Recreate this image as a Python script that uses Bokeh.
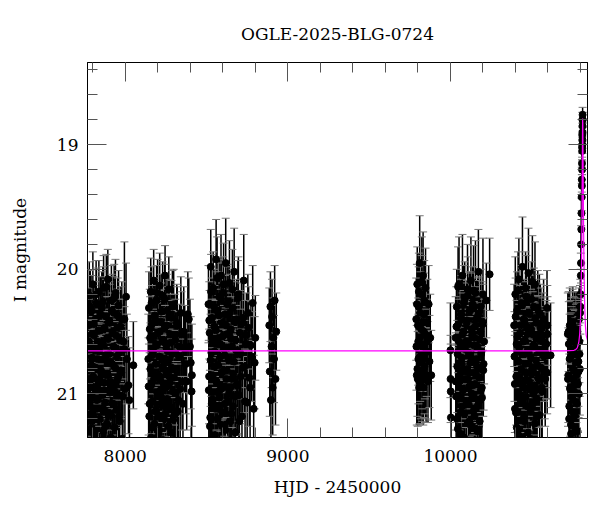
from bokeh.plotting import figure
from bokeh.models import (ColumnDataSource, Range1d, LinearAxis, SingleIntervalTicker,
                          Whisker, TeeHead)
from bokeh.embed import file_html
from bokeh.resources import INLINE

TITLE = "OGLE-2025-BLG-0724"
XLABEL = "HJD - 2450000"
YLABEL = "I magnitude"

# Season 2017
t1 = [7772, 7776, 7779, 7783, 7786, 7790, 7794, 7797, 7801, 7805, 7808, 7812, 7816, 7819, 7823,
      7827, 7830, 7834, 7838, 7841, 7845, 7849, 7852, 7856, 7860, 7863, 7867, 7871, 7874, 7878,
      7882, 7885, 7889, 7893, 7896, 7900, 7904, 7907, 7911, 7915, 7918, 7922, 7926, 7929, 7933,
      7937, 7940, 7944, 7948, 7951, 7955, 7959, 7963, 7968, 7973, 7979, 7986, 7995, 8005, 8020,
      7995, 8050,
      7774, 7777, 7781, 7785, 7788, 7792, 7796, 7799, 7803, 7807, 7810, 7814, 7818, 7821, 7825,
      7829, 7832, 7836, 7840, 7843, 7847, 7851, 7854, 7858, 7862, 7865, 7869, 7873, 7876, 7880,
      7884, 7887, 7891, 7895, 7898, 7902, 7906, 7909, 7913, 7917, 7921, 7924, 7928, 7932, 7935,
      7939, 7943, 7946, 7950, 7954, 7958, 7962, 7966, 7971, 7976, 7982, 7989, 7998, 8010, 8026]
m1 = [20.45, 20.88, 20.21, 21.05, 20.62, 20.34, 21.22, 20.71, 20.12, 20.95, 20.53, 21.31, 20.40, 20.79, 20.27,
      21.12, 20.58, 20.92, 20.18, 20.66, 21.40, 20.49, 20.83, 20.31, 21.01, 20.60, 20.15, 20.97, 20.72, 21.26,
      20.38, 20.85, 20.55, 20.08, 21.15, 20.68, 20.43, 20.90, 21.35, 20.25, 20.76, 20.51, 21.08, 20.35, 20.63,
      20.98, 20.19, 21.45, 20.70, 20.47, 20.87, 20.29, 21.18, 20.57, 20.81, 20.40, 21.02, 20.64, 20.22, 20.93,
      20.40, 20.77,
      21.10, 20.58, 20.95, 20.30, 21.28, 20.77, 20.52, 21.15, 20.86, 20.44, 21.33, 20.63, 20.97, 20.20, 21.05,
      20.72, 21.40, 20.49, 20.88, 21.20, 20.36, 20.81, 21.12, 20.59, 20.26, 21.30, 20.91, 20.47, 21.07, 20.69,
      20.14, 21.24, 20.84, 20.56, 21.38, 20.41, 20.99, 20.74, 21.17, 20.33, 20.94, 21.08, 20.62, 20.23, 21.27,
      20.79, 20.53, 21.13, 20.89, 20.37, 21.01, 20.67, 21.22, 20.46, 20.83, 21.36, 20.58, 20.96, 20.72, 21.05]
e1 = [0.30, 0.38, 0.27, 0.42, 0.33, 0.29, 0.45, 0.35, 0.26, 0.40, 0.32, 0.47, 0.30, 0.36, 0.28,
      0.43, 0.33, 0.39, 0.25, 0.34, 0.48, 0.31, 0.37, 0.29, 0.41, 0.34, 0.26, 0.40, 0.35, 0.46,
      0.30, 0.38, 0.33, 0.24, 0.44, 0.34, 0.31, 0.39, 0.47, 0.28, 0.36, 0.32, 0.42, 0.29, 0.34,
      0.40, 0.27, 0.49, 0.35, 0.31, 0.38, 0.28, 0.44, 0.33, 0.37, 0.30, 0.41, 0.34, 0.27, 0.39,
      0.62, 0.35,
      0.42, 0.34, 0.39, 0.29, 0.46, 0.36, 0.33, 0.43, 0.38, 0.31, 0.47, 0.35, 0.40, 0.27, 0.41,
      0.36, 0.49, 0.32, 0.38, 0.44, 0.30, 0.37, 0.43, 0.34, 0.28, 0.46, 0.39, 0.32, 0.42, 0.35,
      0.26, 0.45, 0.38, 0.34, 0.48, 0.31, 0.40, 0.36, 0.44, 0.29, 0.39, 0.42, 0.35, 0.27, 0.46,
      0.37, 0.33, 0.43, 0.38, 0.30, 0.41, 0.35, 0.45, 0.32, 0.37, 0.48, 0.34, 0.40, 0.36, 0.42]

# Season 2018
t2 = [8142, 8146, 8150, 8153, 8157, 8160, 8164, 8168, 8171, 8175, 8179, 8182, 8186, 8190, 8193,
      8197, 8201, 8204, 8208, 8212, 8216, 8219, 8223, 8227, 8230, 8234, 8238, 8242, 8245, 8249,
      8253, 8257, 8260, 8264, 8268, 8272, 8276, 8280, 8284, 8288, 8293, 8298, 8303, 8308, 8314,
      8320, 8327, 8334, 8342, 8350, 8360, 8372, 8385, 8398, 8408,
      8144, 8148, 8151, 8155, 8159, 8162, 8166, 8169, 8173, 8177, 8180, 8184, 8188, 8191, 8195,
      8199, 8203, 8206, 8210, 8214, 8217, 8221, 8225, 8229, 8232, 8236, 8240, 8243, 8247, 8251,
      8255, 8258, 8262, 8266, 8270, 8274, 8278, 8282, 8286, 8290, 8295, 8300, 8305, 8311, 8317,
      8323, 8330, 8338, 8346, 8355, 8366, 8378, 8391, 8403, 8410]
m2 = [20.72, 20.31, 21.08, 20.55, 20.18, 20.93, 20.44, 21.27, 20.66, 20.09, 20.84, 20.37, 21.14, 20.60, 20.25,
      20.99, 20.51, 21.38, 20.70, 20.13, 20.89, 20.42, 21.03, 20.58, 20.21, 20.78, 21.20, 20.47, 20.05, 20.95,
      20.63, 20.33, 21.10, 20.74, 20.16, 20.86, 20.52, 21.31, 20.39, 20.68, 20.98, 20.28, 21.17, 20.57, 20.81,
      20.45, 21.05, 20.62, 20.35, 20.90, 20.50, 20.76, 20.36, 20.62, 20.98,
      20.94, 21.18, 20.48, 20.80, 21.35, 20.27, 20.69, 21.06, 20.54, 20.88, 21.24, 20.40, 20.76, 21.13, 20.61,
      20.19, 21.02, 20.85, 21.29, 20.50, 20.97, 20.34, 21.09, 20.73, 21.37, 20.57, 20.92, 20.24, 21.16, 20.82,
      20.45, 21.04, 20.66, 21.26, 20.38, 20.91, 20.59, 21.11, 20.79, 20.30, 21.21, 20.87, 20.53, 20.99, 20.43,
      21.14, 20.70, 20.96, 20.52, 21.08, 20.64, 20.90, 20.40, 20.75, 20.85]
e2 = [0.36, 0.29, 0.41, 0.33, 0.27, 0.39, 0.31, 0.45, 0.34, 0.25, 0.38, 0.30, 0.43, 0.33, 0.28,
      0.40, 0.32, 0.48, 0.35, 0.26, 0.38, 0.31, 0.41, 0.33, 0.27, 0.36, 0.44, 0.31, 0.24, 0.39,
      0.34, 0.29, 0.42, 0.35, 0.26, 0.38, 0.32, 0.46, 0.30, 0.35, 0.40, 0.28, 0.43, 0.33, 0.37,
      0.31, 0.41, 0.34, 0.29, 0.39, 0.36, 0.40, 0.34, 0.38, 0.42,
      0.39, 0.44, 0.32, 0.37, 0.48, 0.29, 0.35, 0.41, 0.33, 0.38, 0.45, 0.31, 0.36, 0.43, 0.34,
      0.27, 0.41, 0.38, 0.46, 0.33, 0.40, 0.30, 0.42, 0.36, 0.49, 0.34, 0.39, 0.28, 0.44, 0.37,
      0.31, 0.41, 0.35, 0.46, 0.30, 0.39, 0.34, 0.43, 0.37, 0.29, 0.45, 0.38, 0.33, 0.40, 0.31,
      0.43, 0.36, 0.40, 0.34, 0.42, 0.35, 0.39, 0.33, 0.37, 0.41]

# Season 2019
t3 = [8512, 8516, 8519, 8523, 8526, 8530, 8534, 8537, 8541, 8545, 8548, 8552, 8556, 8559, 8563,
      8567, 8570, 8574, 8578, 8581, 8585, 8589, 8592, 8596, 8600, 8603, 8607, 8611, 8614, 8618,
      8622, 8626, 8629, 8633, 8637, 8641, 8645, 8649, 8653, 8657, 8661, 8665, 8670, 8675, 8680,
      8685, 8690, 8696, 8702, 8708, 8715, 8722, 8729, 8737, 8745, 8754, 8763, 8773, 8784, 8796,
      8886, 8889, 8893, 8896, 8900, 8903, 8907, 8911, 8915, 8919, 8924, 8929,
      8514, 8517, 8521, 8525, 8528, 8532, 8535, 8539, 8543, 8546, 8550, 8554, 8557, 8561, 8565,
      8568, 8572, 8576, 8579, 8583, 8587, 8590, 8594, 8598, 8601, 8605, 8609, 8612, 8616, 8620,
      8624, 8627, 8631, 8635, 8639, 8643, 8647, 8651, 8655, 8659, 8663, 8667, 8672, 8677, 8682,
      8687, 8693, 8699, 8705, 8711, 8718, 8725, 8733, 8741, 8750, 8759, 8768, 8778, 8790, 8800]
m3 = [20.28, 20.86, 20.51, 21.19, 19.98, 20.67, 20.39, 21.04, 20.15, 20.78, 20.46, 21.33, 20.60, 19.92, 20.91,
      20.33, 21.12, 20.55, 20.22, 20.97, 20.70, 20.05, 21.25, 20.43, 20.82, 20.19, 20.64, 21.08, 20.36, 19.95,
      20.88, 20.52, 21.40, 20.26, 20.73, 20.11, 20.95, 20.48, 21.16, 20.62, 20.31, 20.84, 20.02, 21.02, 20.57,
      20.40, 20.93, 20.20, 21.22, 20.68, 20.44, 20.79, 20.09, 21.06, 20.53, 20.35, 20.87, 20.61, 20.27, 20.75,
      20.45, 20.82, 20.30, 21.05, 20.62, 20.38, 20.95, 20.55, 20.72, 20.25, 20.88, 20.50,
      20.97, 20.41, 21.26, 20.73, 20.18, 21.08, 20.58, 20.85, 21.34, 20.30, 20.66, 21.12, 20.49, 20.90, 20.07,
      21.20, 20.77, 20.37, 21.03, 20.60, 21.38, 20.24, 20.83, 20.54, 21.15, 20.12, 20.94, 20.69, 21.29, 20.45,
      20.81, 20.28, 21.06, 20.63, 20.99, 20.35, 21.22, 20.56, 20.88, 20.16, 21.10, 20.74, 20.42, 21.31, 20.65,
      20.92, 20.23, 21.01, 20.51, 20.86, 21.18, 20.39, 20.78, 20.60, 21.07, 20.47, 20.95, 20.70, 21.12, 20.55]
e3 = [0.31, 0.38, 0.34, 0.44, 0.30, 0.35, 0.32, 0.41, 0.29, 0.37, 0.33, 0.47, 0.35, 0.32, 0.39,
      0.31, 0.43, 0.34, 0.30, 0.40, 0.36, 0.33, 0.45, 0.32, 0.38, 0.29, 0.35, 0.42, 0.31, 0.36,
      0.39, 0.33, 0.49, 0.30, 0.37, 0.34, 0.40, 0.32, 0.44, 0.35, 0.31, 0.38, 0.35, 0.41, 0.34,
      0.32, 0.40, 0.30, 0.45, 0.36, 0.33, 0.38, 0.37, 0.42, 0.34, 0.31, 0.39, 0.35, 0.30, 0.37,
      0.30, 0.36, 0.28, 0.40, 0.33, 0.30, 0.38, 0.32, 0.35, 0.28, 0.37, 0.31,
      0.40, 0.31, 0.45, 0.37, 0.30, 0.42, 0.34, 0.39, 0.48, 0.30, 0.36, 0.43, 0.33, 0.39, 0.33,
      0.44, 0.37, 0.31, 0.41, 0.35, 0.49, 0.29, 0.38, 0.34, 0.43, 0.33, 0.40, 0.36, 0.46, 0.32,
      0.38, 0.30, 0.42, 0.35, 0.40, 0.31, 0.45, 0.34, 0.39, 0.32, 0.43, 0.37, 0.32, 0.47, 0.36,
      0.40, 0.30, 0.41, 0.34, 0.38, 0.44, 0.31, 0.37, 0.35, 0.42, 0.33, 0.40, 0.36, 0.43, 0.34]

# Season 2022
t4 = [9790, 9793, 9796, 9799, 9802, 9805, 9808, 9811, 9814, 9817, 9820, 9823, 9826, 9829,
      9832, 9835, 9838, 9841, 9844, 9847, 9850, 9854, 9858, 9862, 9866, 9871, 9876, 9882,
      9791, 9794, 9797, 9800, 9803, 9806, 9809, 9812, 9815, 9818, 9821, 9824, 9827, 9830,
      9833, 9836, 9839, 9843, 9848, 9856]
m4 = [20.40, 20.85, 20.12, 20.88, 20.58, 20.30, 20.95, 19.95, 20.70, 20.92, 20.48, 20.20, 20.88, 20.62,
      20.05, 20.80, 20.36, 20.78, 20.52, 20.15, 20.85, 20.66, 20.42, 20.90, 20.28, 20.74, 20.55, 20.85,
      20.62, 20.28, 20.80, 20.45, 20.72, 20.18, 20.90, 20.55, 20.35, 20.82, 20.60, 20.10, 20.75, 20.42,
      20.95, 20.50, 20.25, 20.68, 20.85, 20.58]
e4 = [0.33, 0.40, 0.30, 0.38, 0.35, 0.32, 0.30, 0.38, 0.36, 0.32, 0.34, 0.31, 0.34, 0.36,
      0.35, 0.39, 0.33, 0.38, 0.35, 0.32, 0.38, 0.36, 0.34, 0.33, 0.31, 0.37, 0.35, 0.36,
      0.35, 0.32, 0.38, 0.33, 0.36, 0.31, 0.34, 0.35, 0.33, 0.38, 0.35, 0.36, 0.37, 0.33,
      0.30, 0.34, 0.32, 0.36, 0.35, 0.34]

# Season 2023
t5 = [10000, 10001, 10002, 10003,
      10032, 10035, 10039, 10042, 10046, 10049, 10053, 10056, 10060, 10063, 10067, 10070, 10074,
      10077, 10081, 10084, 10088, 10091, 10095, 10098, 10102, 10105, 10109, 10112, 10116, 10119,
      10123, 10126, 10130, 10133, 10137, 10140, 10144, 10147, 10151, 10154, 10158, 10161, 10165,
      10168, 10172, 10175, 10179, 10182, 10186, 10189, 10193, 10196, 10200, 10204, 10221, 10241,
      10033, 10037, 10040, 10044, 10047, 10051, 10054, 10058, 10061, 10065, 10068, 10072, 10075,
      10079, 10082, 10086, 10089, 10093, 10096, 10100, 10103, 10107, 10110, 10114, 10117, 10121,
      10124, 10128, 10131, 10135, 10138, 10142, 10145, 10149, 10152, 10156, 10159, 10163, 10166,
      10170, 10173, 10177, 10180, 10184, 10187, 10191, 10194, 10198, 10202, 10207]
m5 = [20.65, 20.88, 20.98, 21.19,
      20.55, 21.02, 20.30, 20.78, 21.28, 20.44, 20.12, 20.90, 20.63, 21.15, 20.36, 20.71, 20.05,
      20.97, 20.50, 21.35, 20.24, 20.82, 20.58, 21.08, 20.41, 20.16, 20.88, 20.67, 21.22, 20.33,
      20.75, 20.09, 21.00, 20.53, 20.28, 20.93, 20.61, 21.18, 20.46, 20.19, 20.85, 20.72, 21.30,
      20.38, 20.02, 20.80, 20.56, 21.05, 20.30, 20.68, 20.95, 20.42, 20.20, 20.76, 20.25, 20.04,
      20.90, 20.46, 21.20, 20.68, 20.14, 21.04, 20.58, 20.85, 21.32, 20.39, 20.75, 21.10, 20.52,
      20.96, 20.27, 21.16, 20.64, 20.88, 21.38, 20.43, 20.80, 20.21, 21.07, 20.60, 20.94, 20.33,
      21.25, 20.71, 20.48, 21.00, 20.83, 20.17, 21.13, 20.55, 20.92, 21.28, 20.40, 20.78, 20.62,
      21.09, 20.36, 20.87, 21.22, 20.50, 20.97, 20.66, 21.03, 20.44, 20.81, 20.58]
e5 = [0.38, 0.35, 0.38, 0.30,
      0.33, 0.41, 0.30, 0.37, 0.45, 0.32, 0.38, 0.39, 0.35, 0.43, 0.31, 0.36, 0.33,
      0.40, 0.33, 0.48, 0.30, 0.38, 0.34, 0.42, 0.32, 0.36, 0.39, 0.35, 0.45, 0.31,
      0.37, 0.35, 0.41, 0.33, 0.30, 0.40, 0.35, 0.44, 0.32, 0.42, 0.38, 0.36, 0.47,
      0.31, 0.34, 0.38, 0.34, 0.42, 0.30, 0.36, 0.40, 0.32, 0.45, 0.37, 0.30, 0.29,
      0.39, 0.32, 0.44, 0.36, 0.32, 0.41, 0.34, 0.38, 0.47, 0.31, 0.37, 0.42, 0.33,
      0.40, 0.30, 0.43, 0.35, 0.39, 0.48, 0.32, 0.37, 0.31, 0.41, 0.34, 0.40, 0.30,
      0.45, 0.36, 0.32, 0.40, 0.38, 0.36, 0.42, 0.34, 0.39, 0.46, 0.31, 0.37, 0.35,
      0.41, 0.30, 0.38, 0.44, 0.33, 0.40, 0.35, 0.41, 0.32, 0.37, 0.34]

# Season 2024
t6 = [10392, 10396, 10399, 10403, 10407, 10410, 10414, 10418, 10421, 10425, 10429, 10432, 10436,
      10440, 10443, 10447, 10451, 10454, 10458, 10462, 10465, 10469, 10473, 10476, 10480, 10484,
      10487, 10491, 10495, 10498, 10502, 10506, 10509, 10513, 10517, 10520, 10524, 10528, 10531,
      10535, 10539, 10543, 10547, 10551, 10556, 10561, 10567, 10573, 10580, 10588,
      10594, 10596, 10597, 10598, 10595, 10616,
      10394, 10397, 10401, 10405, 10408, 10412, 10416, 10419, 10423, 10427, 10430, 10434, 10438,
      10441, 10445, 10449, 10452, 10456, 10460, 10463, 10467, 10471, 10474, 10478, 10482, 10485,
      10489, 10493, 10496, 10500, 10504, 10507, 10511, 10515, 10518, 10522, 10526, 10529, 10533,
      10537, 10541, 10545, 10549, 10553, 10558, 10564, 10570, 10576, 10583, 10590]
m6 = [20.45, 20.92, 20.20, 21.15, 20.60, 20.33, 21.30, 20.74, 20.08, 20.86, 20.51, 21.05, 20.27,
      20.68, 19.98, 20.95, 20.40, 21.22, 20.57, 20.15, 20.83, 20.46, 21.10, 20.65, 20.03, 20.90,
      20.36, 21.36, 20.71, 20.24, 20.80, 20.52, 21.00, 20.30, 20.62, 20.12, 20.97, 20.43, 21.18,
      20.77, 20.55, 20.88, 20.35, 20.66, 20.48, 20.95, 20.58, 20.40, 20.82, 20.68,
      20.31, 20.45, 20.52, 20.69, 20.83, 20.69,
      20.70, 21.12, 20.38, 20.86, 21.27, 20.54, 20.17, 20.99, 20.63, 21.34, 20.45, 20.80, 21.06,
      20.29, 20.92, 20.58, 21.19, 20.41, 20.76, 21.02, 20.22, 20.89, 20.52, 21.31, 20.67, 20.35,
      20.96, 21.14, 20.48, 20.84, 20.10, 21.08, 20.61, 20.93, 21.24, 20.39, 20.73, 20.56, 21.04,
      20.31, 20.87, 20.65, 21.17, 20.44, 20.79, 20.98, 20.53, 20.70, 20.88, 20.60]
e6 = [0.33, 0.39, 0.30, 0.43, 0.35, 0.31, 0.46, 0.37, 0.33, 0.39, 0.34, 0.41, 0.30,
      0.36, 0.40, 0.40, 0.32, 0.45, 0.34, 0.29, 0.38, 0.33, 0.42, 0.35, 0.36, 0.39,
      0.31, 0.48, 0.37, 0.30, 0.38, 0.34, 0.41, 0.31, 0.35, 0.34, 0.40, 0.32, 0.44,
      0.37, 0.34, 0.39, 0.31, 0.36, 0.33, 0.40, 0.35, 0.32, 0.38, 0.36,
      0.30, 0.32, 0.30, 0.35, 0.33, 0.42,
      0.36, 0.42, 0.31, 0.39, 0.45, 0.34, 0.31, 0.40, 0.35, 0.48, 0.32, 0.38, 0.41,
      0.30, 0.39, 0.34, 0.44, 0.31, 0.37, 0.41, 0.33, 0.39, 0.33, 0.47, 0.36, 0.31,
      0.40, 0.43, 0.32, 0.38, 0.37, 0.42, 0.35, 0.40, 0.45, 0.31, 0.37, 0.34, 0.41,
      0.30, 0.39, 0.35, 0.43, 0.32, 0.37, 0.40, 0.34, 0.36, 0.38, 0.35]

# Season 2025 (baseline + event)
t7 = [10722, 10725, 10728, 10731, 10734, 10737, 10740, 10743, 10746, 10749, 10752, 10755, 10758,
      10761, 10764, 10767, 10770, 10773, 10776, 10779, 10782, 10785, 10788, 10791, 10794, 10797,
      10723, 10727, 10730, 10733, 10736, 10739, 10742, 10745, 10748, 10751, 10754, 10757, 10760,
      10763, 10766, 10769, 10772, 10775, 10778, 10781, 10784, 10787, 10790, 10793, 10796,
      10799, 10801, 10802, 10803, 10804, 10805, 10806, 10807, 10808, 10809, 10810, 10811, 10812, 10813,
      10808.5, 10809.5, 10810.5, 10811.5, 10812.5, 10813.5, 10812.2, 10811.2]
m7 = [20.52, 20.85, 20.60, 21.10, 20.45, 20.95, 20.70, 21.25, 20.55, 20.88, 20.42, 21.05, 20.66,
      20.98, 20.50, 21.18, 20.75, 20.48, 20.92, 20.60, 21.30, 20.55, 20.82, 20.40, 20.68, 20.35,
      20.88, 20.50, 21.20, 20.72, 20.96, 20.58, 21.32, 20.65, 21.02, 20.46, 20.80, 21.15, 20.55,
      20.90, 20.68, 21.28, 20.62, 20.85, 21.08, 20.50, 20.92, 20.74, 21.00, 20.58, 20.80,
      20.30, 20.20, 20.05, 19.95, 19.80, 19.68, 19.55, 19.42, 19.28, 19.15, 19.02, 18.92, 18.80, 18.76,
      19.33, 19.20, 19.05, 18.96, 18.85, 18.80, 18.90, 19.00]
e7 = [0.33, 0.38, 0.34, 0.42, 0.30, 0.39, 0.35, 0.45, 0.32, 0.38, 0.28, 0.41, 0.34,
      0.40, 0.32, 0.43, 0.36, 0.30, 0.39, 0.33, 0.46, 0.32, 0.37, 0.25, 0.34, 0.22,
      0.38, 0.32, 0.44, 0.36, 0.40, 0.33, 0.47, 0.35, 0.41, 0.30, 0.37, 0.43, 0.33,
      0.39, 0.35, 0.46, 0.34, 0.38, 0.42, 0.32, 0.39, 0.36, 0.41, 0.33, 0.37,
      0.22, 0.20, 0.18, 0.16, 0.15, 0.13, 0.12, 0.11, 0.10, 0.09, 0.08, 0.07, 0.06, 0.06,
      0.09, 0.08, 0.08, 0.07, 0.06, 0.06, 0.07, 0.07]

# Model light curve
model_t = [7766, 10700, 10760, 10770, 10780, 10785, 10790, 10795, 10800, 10803, 10806, 10808,
           10810, 10812, 10813, 10814, 10816, 10818, 10820, 10823, 10826, 10830, 10835, 10845]
model_m = [20.655, 20.655, 20.65, 20.645, 20.63, 20.61, 20.58, 20.52, 20.40, 20.25, 20.00, 19.75,
           19.35, 18.95, 18.79, 18.82, 19.15, 19.50, 19.80, 20.10, 20.30, 20.45, 20.53, 20.58]

T = t1 + t2 + t3 + t4 + t5 + t6 + t7
M = m1 + m2 + m3 + m4 + m5 + m6 + m7
E = e1 + e2 + e3 + e4 + e5 + e6 + e7
src = ColumnDataSource(dict(t=T, m=M, up=[a - b for a, b in zip(M, E)],
                            lo=[a + b for a, b in zip(M, E)]))

FONT = "DejaVu Serif"

p = figure(width=596, height=508, output_backend="svg", toolbar_location=None,
           x_range=Range1d(7768, 10843), y_range=Range1d(21.35, 18.34),
           min_border_left=87, min_border_right=9, min_border_top=62, min_border_bottom=71)
p.grid.visible = False
p.outline_line_color = "black"
p.background_fill_color = "white"
p.border_fill_color = "white"

p.title.text = TITLE
p.title.align = "center"
p.title.text_font = FONT
p.title.text_font_size = "17px"
p.title.text_font_style = "normal"
p.title.text_color = "black"
p.title.standoff = 37

TICK = "#555555"
for ax in (p.xaxis[0], p.yaxis[0]):
    ax.axis_label_text_font = FONT
    ax.axis_label_text_font_size = "17px"
    ax.axis_label_text_font_style = "normal"
    ax.axis_label_text_color = "black"
    ax.major_label_text_font = FONT
    ax.major_label_text_font_size = "17px"
    ax.major_label_text_color = "black"
    ax.major_tick_in = 19
    ax.major_tick_out = 0
    ax.minor_tick_in = 10
    ax.minor_tick_out = 0
    ax.major_tick_line_color = TICK
    ax.minor_tick_line_color = TICK
    ax.axis_line_color = "black"

p.xaxis[0].axis_label = XLABEL
p.yaxis[0].axis_label = YLABEL
p.xaxis[0].ticker = SingleIntervalTicker(interval=1000, num_minor_ticks=5)
p.yaxis[0].ticker = SingleIntervalTicker(interval=1, num_minor_ticks=5)
p.xaxis[0].major_label_standoff = 12
p.yaxis[0].major_label_standoff = 9
p.xaxis[0].axis_label_standoff = 12
p.yaxis[0].axis_label_standoff = 24

top = LinearAxis(ticker=SingleIntervalTicker(interval=1000, num_minor_ticks=5))
right = LinearAxis(ticker=SingleIntervalTicker(interval=1, num_minor_ticks=5))
top.major_label_overrides = {8000: "", 9000: "", 10000: ""}
right.major_label_overrides = {19: "", 20: "", 21: ""}
for ax in (top, right):
    ax.major_label_standoff = 0
    ax.major_tick_in = 19
    ax.major_tick_out = 0
    ax.minor_tick_in = 10
    ax.minor_tick_out = 0
    ax.major_tick_line_color = TICK
    ax.minor_tick_line_color = TICK
    ax.axis_line_color = "black"
p.add_layout(top, "above")
p.add_layout(right, "right")

w = Whisker(source=src, base="t", upper="up", lower="lo", dimension="height",
            line_color="black", line_width=1.5,
            upper_head=TeeHead(size=8, line_color="#777777", line_width=1),
            lower_head=TeeHead(size=8, line_color="#777777", line_width=1))
p.add_layout(w)

p.scatter("t", "m", source=src, size=7, color="black")
p.line(model_t, model_m, line_color="magenta", line_width=1.2)

open("out.html", "w").write(file_html(p, INLINE))
